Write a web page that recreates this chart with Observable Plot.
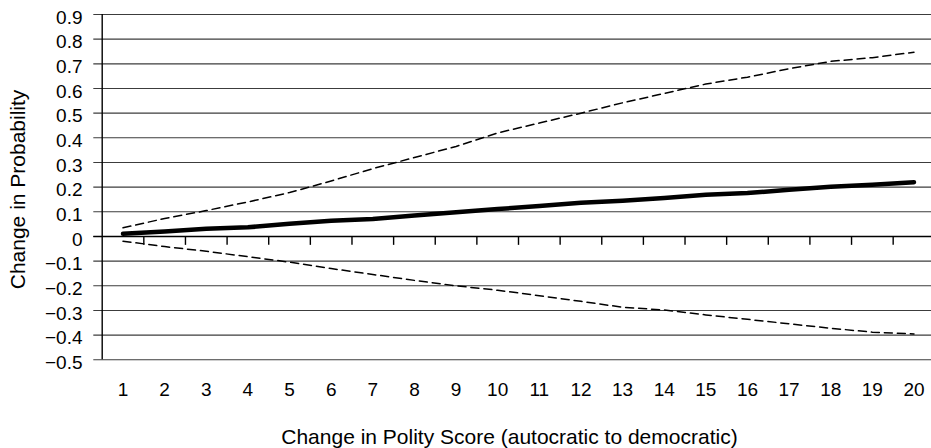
<!DOCTYPE html>
<html>
<head>
<meta charset="utf-8">
<script src="https://cdn.jsdelivr.net/npm/d3@7"></script>
<script src="https://cdn.jsdelivr.net/npm/@observablehq/plot@0.6"></script>
<style>
  html, body { margin: 0; padding: 0; background: #fff; }
  #chart { width: 931px; height: 448px; }
</style>
</head>
<body>
<div id="chart"></div>
<script>
// ---- data ----
const polityChange = [1, 2, 3, 4, 5, 6, 7, 8, 9, 10, 11, 12, 13, 14, 15, 16, 17, 18, 19, 20];
const estimate = [0.011, 0.02, 0.031, 0.037, 0.052, 0.064, 0.071, 0.085, 0.098, 0.111,
                  0.124, 0.137, 0.145, 0.156, 0.169, 0.176, 0.189, 0.202, 0.21, 0.22];
const upperBound = [0.035, 0.073, 0.105, 0.14, 0.178, 0.225, 0.275, 0.32, 0.365, 0.42,
                    0.46, 0.5, 0.542, 0.58, 0.618, 0.646, 0.68, 0.71, 0.725, 0.747];
const lowerBound = [-0.019, -0.041, -0.06, -0.082, -0.104, -0.13, -0.154, -0.178, -0.2, -0.218,
                    -0.24, -0.263, -0.287, -0.298, -0.318, -0.336, -0.354, -0.372, -0.388, -0.395];
const yTicks = [-0.5, -0.4, -0.3, -0.2, -0.1, 0, 0.1, 0.2, 0.3, 0.4, 0.5, 0.6, 0.7, 0.8, 0.9];
const yTickLabels = ["\u22120.5", "\u22120.4", "\u22120.3", "\u22120.2", "\u22120.1", "0",
                     "0.1", "0.2", "0.3", "0.4", "0.5", "0.6", "0.7", "0.8", "0.9"];
const xTickLabels = polityChange.map(String);
const xTitle = "Change in Polity Score (autocratic to democratic)";
const yTitle = "Change in Probability";

// ---- table ----
const rows = polityChange.map((x, i) => ({x, est: estimate[i], lo: lowerBound[i], hi: upperBound[i]}));
const xDomain = [polityChange[0] - 0.5, polityChange[polityChange.length - 1] + 0.5];
const yDomain = [yTicks[0], yTicks[yTicks.length - 1]];
const boundaryRows = polityChange.slice(1).map(d => ({b: d - 0.5}));
const yLabelRows = yTicks.map((v, i) => ({v, label: yTickLabels[i]}));
const xLabelRows = polityChange.map((v, i) => ({v, label: xTickLabels[i]}));
// category tick length below the zero line, as a fraction of one y grid step
const yStep = yTicks[1] - yTicks[0];
const catTickLen = yStep * 0.34;

const font = "'Liberation Sans', Arial, Helvetica, sans-serif";

const chart = Plot.plot({
  width: 931,
  height: 448,
  marginLeft: 101.7,
  marginRight: 0,
  marginTop: 14,
  marginBottom: 88.7,
  style: {fontFamily: font, background: "#fff", color: "#000"},
  x: {type: "linear", domain: xDomain, range: [101.7, 934.3], axis: null},
  y: {type: "linear", domain: yDomain, axis: null},
  marks: [
    // horizontal gridlines with left tick stubs
    Plot.ruleY(yTicks, {stroke: "#3c3c3c", strokeWidth: 1.1, insetLeft: -8.4}),
    // zero line (category axis)
    Plot.ruleY([0], {stroke: "#000", strokeWidth: 1.6, insetLeft: -8.4}),
    // category boundary ticks below zero line
    Plot.link(boundaryRows, {x1: "b", x2: "b", y1: () => 0, y2: () => -catTickLen, stroke: "#000", strokeWidth: 1.4}),
    // vertical axis line
    Plot.ruleX([xDomain[0]], {y1: () => yDomain[0], y2: () => yDomain[1], stroke: "#000", strokeWidth: 1.4}),
    // confidence bounds
    Plot.line(rows, {x: "x", y: "hi", stroke: "#000", strokeWidth: 1.5, strokeDasharray: "8,5"}),
    Plot.line(rows, {x: "x", y: "lo", stroke: "#000", strokeWidth: 1.5, strokeDasharray: "8,5"}),
    // estimate
    Plot.line(rows, {x: "x", y: "est", stroke: "#000", strokeWidth: 4.5, strokeLinecap: "round"}),
    // y tick labels
    Plot.text(yLabelRows, {y: "v", text: "label", frameAnchor: "left", textAnchor: "end", lineAnchor: "middle", dx: -19.7, dy: 3, fontSize: 19, fill: "#000"}),
    // x tick labels
    Plot.text(xLabelRows, {x: "v", text: "label", frameAnchor: "bottom", textAnchor: "middle", lineAnchor: "middle", dy: 30.4, fontSize: 19, fill: "#000"}),
    // axis titles
    Plot.text([xTitle], {text: d => d, frameAnchor: "bottom", textAnchor: "middle", lineAnchor: "middle", dx: -7.4, dy: 77, fontSize: 21, fill: "#000"}),
    Plot.text([yTitle], {text: d => d, frameAnchor: "left", textAnchor: "middle", lineAnchor: "middle", rotate: -90, dx: -84.2, dy: 2.3, fontSize: 21, fill: "#000"})
  ]
});
document.getElementById("chart").appendChild(chart);
</script>
</body>
</html>
